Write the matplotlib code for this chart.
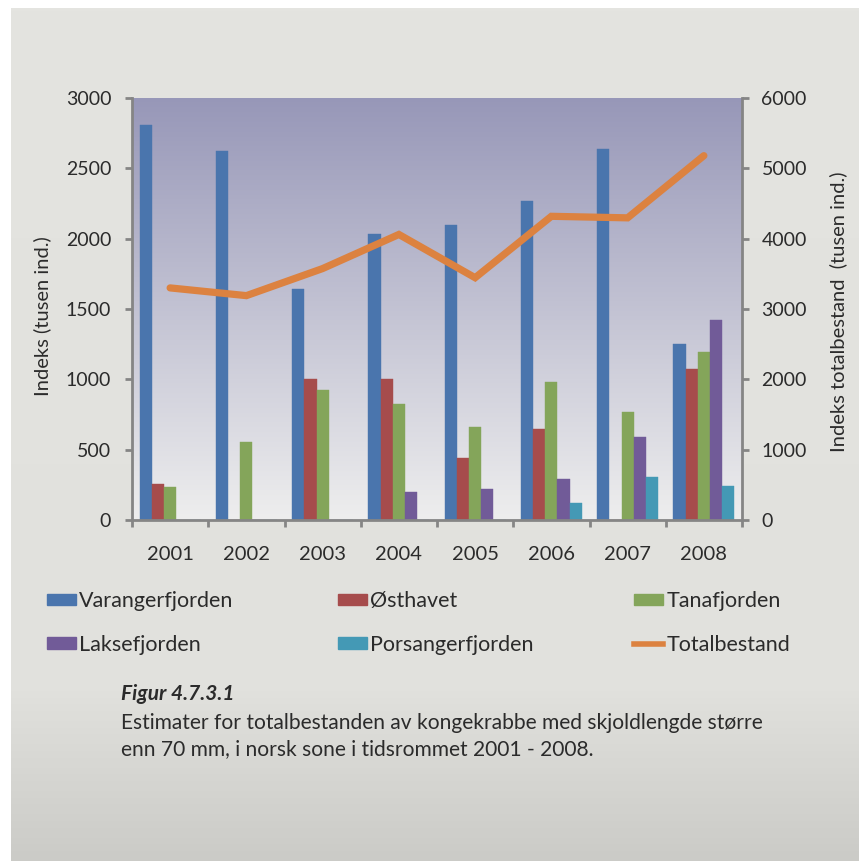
import numpy as np
import matplotlib
matplotlib.use("Agg")
import matplotlib.pyplot as plt
from matplotlib.patches import Patch
from matplotlib.lines import Line2D

plt.rcParams["font.family"] = ["Lato", "DejaVu Sans"]

years = ["2001", "2002", "2003", "2004", "2005", "2006", "2007", "2008"]
varangerfjorden = [2810, 2620, 1640, 2035, 2095, 2265, 2635, 1250]
osthavet = [258, 0, 1005, 1005, 442, 648, 0, 1076]
tanafjorden = [235, 558, 925, 825, 660, 984, 765, 1193]
laksefjorden = [0, 0, 0, 200, 221, 292, 592, 1425]
porsangerfjorden = [0, 0, 0, 0, 0, 119, 304, 245]
totalbestand = [3300, 3190, 3575, 4060, 3445, 4318, 4296, 5180]

series = [
    ("Varangerfjorden", varangerfjorden, "#4a75ad"),
    ("Østhavet", osthavet, "#a64c4c"),
    ("Tanafjorden", tanafjorden, "#84a55a"),
    ("Laksefjorden", laksefjorden, "#715b98"),
    ("Porsangerfjorden", porsangerfjorden, "#4499b5"),
]
line_color = "#dc8240"
axis_grey = "#858585"
text_col = "#2b2b2b"

W, H = 859, 861
fig = plt.figure(figsize=(W / 100, H / 100), dpi=100, facecolor="white")

# grey panel behind everything
bg = fig.add_axes([11 / W, 0, 1 - 11 / W, 1 - 8 / H], zorder=-10)
t = np.linspace(0, 1, 256)
shade = np.where(t < 0.2, 203 + (225 - 203) * t / 0.2, 225 + 3 * (t - 0.2) / 0.8)
rgb = np.stack([shade, shade, shade - 4], axis=1)[::-1] / 255
bg.imshow(rgb[:, None, :], aspect="auto", extent=(0, 1, 0, 1))
bg.set_axis_off()

ax = fig.add_axes([132 / W, 1 - 520 / H, (742 - 132) / W, (520 - 98) / H])
ax2 = ax.twinx()

# plot area gradient
g = np.linspace(0, 1, 256)[:, None]
top = np.array([151, 151, 184]) / 255
bot = np.array([238, 238, 238]) / 255
grad = top + (bot - top) * g
ax.imshow(grad[:, None, :], aspect="auto", extent=(0, 1, 0, 1),
          transform=ax.transAxes, zorder=0)

x = np.arange(len(years))
bw = 0.16
for i, (name, vals, col) in enumerate(series):
    ax.bar(x + (i - 2) * bw, vals, width=bw, color=col, zorder=2,
           edgecolor=col, linewidth=0.3)

ax2.plot(x, totalbestand, color=line_color, lw=5.2, solid_capstyle="round",
         solid_joinstyle="miter", zorder=3)

ax.set_xlim(-0.5, len(years) - 0.5)
ax.set_ylim(0, 3000)
ax2.set_ylim(0, 6000)
ax.set_yticks(np.arange(0, 3001, 500))
ax2.set_yticks(np.arange(0, 6001, 1000))
ax.set_xticks(x)
ax.set_xticklabels(years)
ax.set_xticks(np.arange(-0.5, len(years), 1), minor=True)

for a in (ax, ax2):
    for s in a.spines.values():
        s.set_visible(False)
ax.spines["left"].set_visible(True)
ax.spines["bottom"].set_visible(True)
ax2.spines["right"].set_visible(True)
for s in (ax.spines["left"], ax.spines["bottom"], ax2.spines["right"]):
    s.set_color(axis_grey)
    s.set_linewidth(2)

ax.tick_params(axis="y", length=5, width=2, color=axis_grey, pad=10,
               labelsize=14, labelcolor=text_col)
ax2.tick_params(axis="y", length=5, width=2, color=axis_grey, pad=9,
                labelsize=14, labelcolor=text_col)
ax.tick_params(axis="x", which="major", length=0, pad=19, labelsize=14.5,
               labelcolor=text_col)
ax.tick_params(axis="x", which="minor", length=5, width=2, color=axis_grey)

fig.text(42 / W, 1 - 316 / H, "Indeks (tusen ind.)", rotation=90,
         ha="center", va="center", fontsize=14.5, color=text_col)
fig.text(838 / W, 1 - 312 / H, "Indeks totalbestand  (tusen ind.)", rotation=90,
         ha="center", va="center", fontsize=14.5, color=text_col)

# legend: three columns, two rows
handles = [Patch(color=c) for _, _, c in series]
handles.append(Line2D([0], [0], color=line_color, lw=4))
labels = [n for n, _, _ in series] + ["Totalbestand"]
cols = [(47, [0, 3]), (338, [1, 4]), (634, [2, 5])]
for xpos, idx in cols:
    leg = fig.legend([handles[k] for k in idx], [labels[k] for k in idx],
                     loc="center left", bbox_to_anchor=(xpos / W, 1 - 623 / H),
                     frameon=False, fontsize=15.5, handlelength=1.35,
                     handleheight=0.45, handletextpad=0.15, labelspacing=1.1,
                     borderpad=0, borderaxespad=0)
    for txt in leg.get_texts():
        txt.set_color(text_col)

fig.text(121 / W, 1 - 694 / H, "Figur 4.7.3.1", fontsize=15, fontweight="bold",
         fontstyle="italic", color=text_col, va="center")
fig.text(121 / W, 1 - 723 / H,
         "Estimater for totalbestanden av kongekrabbe med skjoldlengde større",
         fontsize=15.1, color=text_col, va="center")
fig.text(121 / W, 1 - 749 / H,
         "enn 70 mm, i norsk sone i tidsrommet 2001 - 2008.",
         fontsize=15.1, color=text_col, va="center")

fig.savefig("out.png", dpi=100)
